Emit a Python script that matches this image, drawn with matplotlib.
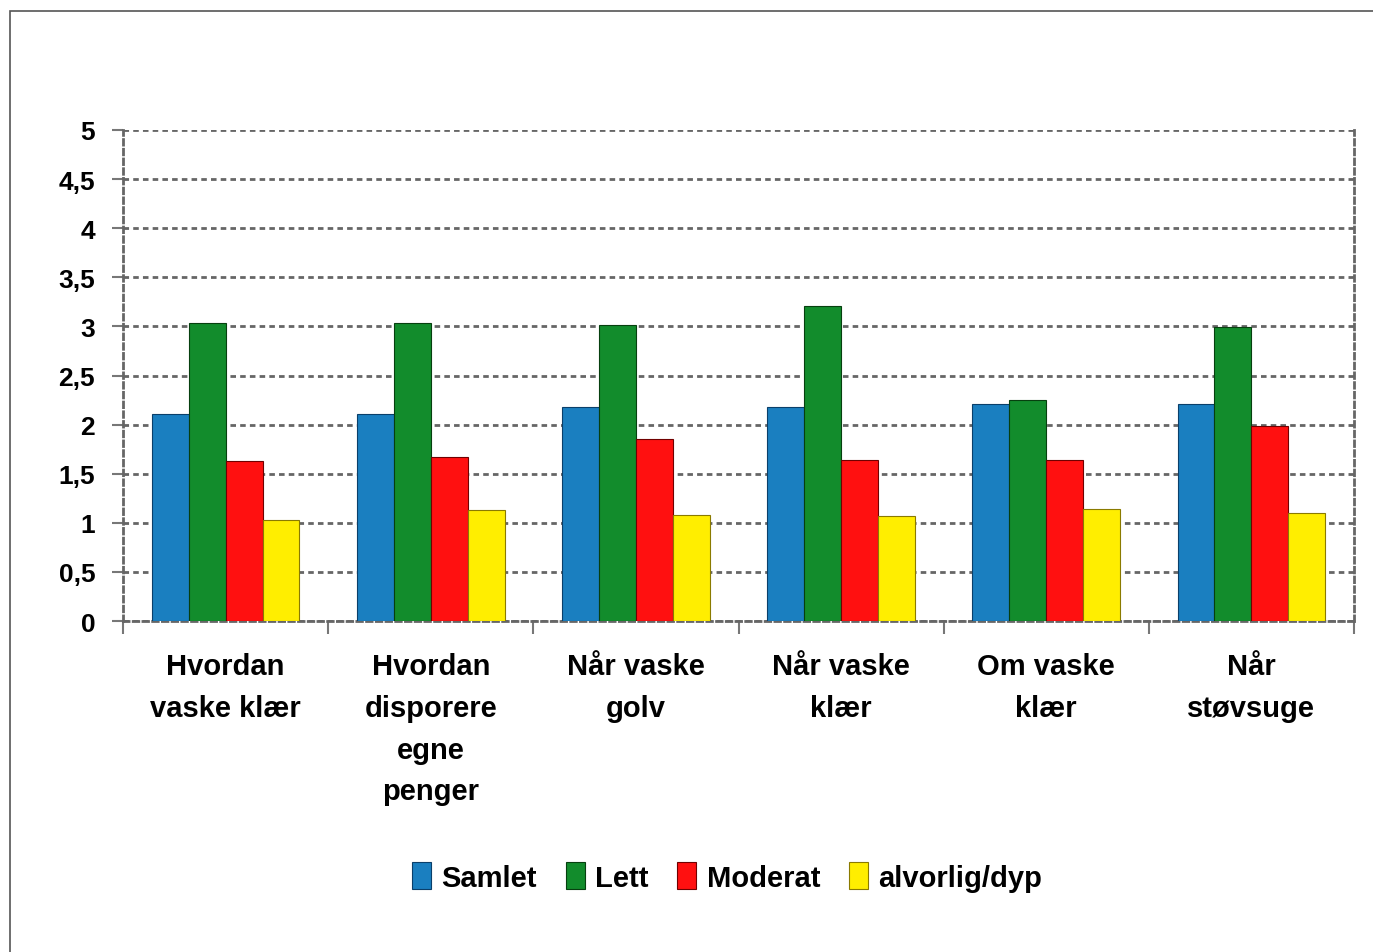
import numpy as np
import matplotlib.pyplot as plt
from matplotlib.patches import Rectangle

categories = ["Hvordan\nvaske klær", "Hvordan\ndisporere\negne\npenger", "Når vaske\ngolv",
              "Når vaske\nklær", "Om vaske\nklær", "Når\nstøvsuge"]
series = ["Samlet", "Lett", "Moderat", "alvorlig/dyp"]
samlet = [2.11, 2.11, 2.18, 2.18, 2.21, 2.21]
lett = [3.03, 3.03, 3.01, 3.21, 2.25, 2.99]
moderat = [1.63, 1.67, 1.85, 1.64, 1.64, 1.99]
alvorlig = [1.03, 1.13, 1.08, 1.07, 1.14, 1.10]
yticks = [0, 0.5, 1, 1.5, 2, 2.5, 3, 3.5, 4, 4.5, 5]
ytick_labels = ["0", "0,5", "1", "1,5", "2", "2,5", "3", "3,5", "4", "4,5", "5"]

colors = ["#1a7fc0", "#128c2c", "#ff1010", "#ffee00"]
edges = ["#0a3f6a", "#06400f", "#700000", "#8a7a00"]

plt.rcParams['font.family'] = ['Liberation Sans', 'DejaVu Sans']
plt.rcParams['font.weight'] = 'bold'

fig = plt.figure(figsize=(13.73, 9.53), dpi=100)
ax = fig.add_axes([123 / 1373, 1 - 622 / 953, (1354 - 123) / 1373, (622 - 131) / 953])

# thin outer frame of the original picture
fig.patches.append(Rectangle((10 / 1373, -0.1), 1.2, 1 - 12 / 953 + 0.1, transform=fig.transFigure,
                             fill=False, edgecolor="#555555", linewidth=1.2))

x = np.arange(len(categories))
w = 0.18
data = [samlet, lett, moderat, alvorlig]
for i, vals in enumerate(data):
    ax.bar(x + (i - 1.5) * w, vals, w, color=colors[i], edgecolor=edges[i], linewidth=0.8,
           label=series[i], zorder=3)

ax.set_xlim(-0.5, len(categories) - 0.5)
ax.set_ylim(0, 5)
ax.set_yticks(yticks)
ax.set_yticklabels(ytick_labels, fontsize=19, fontweight='bold')
ax.yaxis.grid(True, linestyle=(0, (2, 1.5)), color="#666666", linewidth=2, zorder=0)

ax.set_xticks(np.arange(len(categories) + 1) - 0.5)
ax.set_xticklabels([])
ax.tick_params(axis='x', length=9, width=1.5, color="#777777", direction='out')
ax.tick_params(axis='y', length=8, width=1.5, color="#777777", direction='out', pad=12)

for sp in ["left", "right", "bottom", "top"]:
    ax.spines[sp].set_linestyle((0, (2, 1.5)))
    ax.spines[sp].set_color("#666666")
    ax.spines[sp].set_linewidth(2)
ax.spines["top"].set_visible(False)

for xi, lab in zip(x, categories):
    ax.text(xi, -0.32, lab, ha='center', va='top', fontsize=21, fontweight='bold',
            linespacing=1.62, transform=ax.transData)

fig.legend(loc='center', bbox_to_anchor=(727 / 1373, 1 - 878 / 953), ncol=4, frameon=False,
           handlelength=0.65, handleheight=1.0, handletextpad=0.35, columnspacing=1.0,
           prop={'weight': 'bold', 'size': 21})

fig.savefig("out.png", dpi=100)
